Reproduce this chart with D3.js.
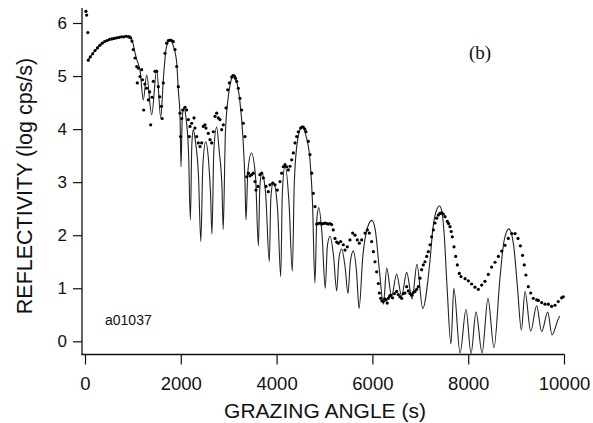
<!DOCTYPE html>
<html>
<head>
<meta charset="utf-8">
<script src="https://cdn.jsdelivr.net/npm/d3@7"></script>
<style>
  html, body { margin: 0; padding: 0; background: #fff; }
  svg { display: block; }
</style>
</head>
<body>
<svg id="chart" width="593" height="423"></svg>
<script>
// ---- tick labels ----
const xTicks = [0, 2000, 4000, 6000, 8000, 10000];
const yTicks = [0, 1, 2, 3, 4, 5, 6];

// ---- simulated reflectivity (thin line): grazing angle (s), log cps/s ----
const simAngle = [60, 200, 313, 500, 670, 940, 1000, 1050, 1085, 1150, 1217, 1288, 1392, 1497, 1580, 1640, 1700, 1775, 1850, 1914, 1948, 1985, 2004, 2030, 2067, 2110, 2160, 2200, 2230, 2261, 2300, 2370, 2418, 2460, 2519, 2580, 2620, 2650, 2690, 2749, 2800, 2860, 2885, 2930, 2990, 3050, 3105, 3160, 3230, 3300, 3340, 3361, 3400, 3475, 3560, 3620, 3650, 3690, 3770, 3848, 3880, 3931, 4020, 4086, 4120, 4175, 4260, 4328, 4370, 4440, 4530, 4620, 4697, 4750, 4800, 4840, 4880, 4950, 5015, 5060, 5115, 5190, 5255, 5300, 5357, 5430, 5490, 5540, 5601, 5670, 5722, 5800, 5900, 5990, 6060, 6150, 6228, 6300, 6400, 6505, 6610, 6715, 6830, 6930, 7050, 7200, 7260, 7330, 7400, 7450, 7500, 7560, 7640, 7700, 7830, 7954, 8060, 8163, 8290, 8413, 8538, 8664, 8750, 8850, 8950, 9030, 9110, 9186, 9305, 9429, 9534, 9660, 9750, 9916, 9990];
const simLogR  = [5.30, 5.47, 5.59, 5.68, 5.72, 5.76, 5.62, 5.42, 5.30, 5.10, 4.55, 5.02, 4.27, 5.12, 4.22, 5.00, 5.55, 5.67, 5.55, 5.25, 4.74, 4.20, 3.29, 4.20, 4.41, 4.20, 3.60, 2.29, 3.70, 3.99, 3.80, 3.10, 1.88, 3.30, 3.76, 3.40, 2.80, 2.02, 3.60, 4.04, 3.60, 2.90, 2.11, 3.90, 4.60, 4.92, 5.02, 4.92, 4.55, 3.80, 3.00, 2.29, 3.20, 3.55, 3.10, 1.80, 2.90, 3.17, 2.80, 1.50, 2.70, 3.00, 2.50, 1.22, 2.80, 3.31, 2.60, 1.32, 3.00, 3.80, 4.05, 3.85, 3.42, 2.60, 1.10, 2.30, 2.52, 2.00, 1.00, 1.80, 1.98, 1.60, 0.95, 1.55, 1.74, 1.40, 0.90, 1.50, 1.70, 1.30, 0.62, 1.60, 2.15, 2.28, 2.10, 1.30, 0.70, 1.38, 0.84, 1.27, 0.85, 1.30, 0.80, 1.45, 0.62, 1.50, 2.10, 2.45, 2.55, 2.45, 2.00, 1.00, -0.05, 1.00, -0.22, 0.60, -0.23, 0.55, -0.22, 0.81, -0.12, 1.20, 1.90, 2.12, 1.80, 1.00, 0.21, 0.94, 0.19, 0.67, 0.18, 0.55, 0.12, 0.47];

// ---- measured reflectivity (dots) ----
const dataAngle = [20, 35, 60, 70, 110, 160, 210, 260, 310, 360, 410, 460, 510, 560, 610, 660, 710, 760, 810, 860, 910, 950, 980, 1008, 1044, 1079, 1092, 1110, 1148, 1183, 1200, 1225, 1250, 1286, 1322, 1350, 1371, 1400, 1426, 1461, 1497, 1530, 1560, 1595, 1610, 1635, 1670, 1705, 1740, 1775, 1810, 1844, 1879, 1914, 1948, 1983, 1997, 2020, 2039, 2088, 2123, 2157, 2178, 2192, 2227, 2276, 2296, 2332, 2366, 2401, 2436, 2470, 2505, 2526, 2574, 2610, 2644, 2679, 2714, 2749, 2783, 2818, 2853, 2888, 2944, 2979, 3013, 3062, 3090, 3117, 3140, 3166, 3201, 3236, 3271, 3305, 3340, 3376, 3410, 3445, 3480, 3514, 3549, 3570, 3610, 3653, 3688, 3723, 3779, 3827, 3862, 3918, 3967, 4015, 4071, 4106, 4140, 4175, 4210, 4245, 4280, 4315, 4349, 4384, 4419, 4453, 4503, 4530, 4557, 4590, 4614, 4662, 4697, 4732, 4766, 4802, 4836, 4870, 4906, 4940, 4975, 5010, 5045, 5080, 5115, 5150, 5184, 5219, 5254, 5289, 5337, 5393, 5428, 5476, 5532, 5588, 5637, 5685, 5727, 5776, 5846, 5894, 5936, 5985, 6020, 6054, 6089, 6124, 6145, 6173, 6200, 6228, 6256, 6284, 6310, 6333, 6360, 6382, 6420, 6460, 6506, 6540, 6576, 6611, 6646, 6680, 6715, 6750, 6785, 6820, 6855, 6889, 6925, 6959, 6994, 7028, 7063, 7098, 7133, 7167, 7203, 7237, 7272, 7307, 7342, 7376, 7410, 7446, 7480, 7516, 7564, 7590, 7620, 7645, 7668, 7704, 7739, 7773, 7815, 7850, 7935, 8003, 8072, 8142, 8212, 8281, 8350, 8420, 8490, 8560, 8630, 8700, 8768, 8838, 8908, 8977, 9040, 9090, 9135, 9170, 9205, 9255, 9305, 9359, 9429, 9465, 9533, 9603, 9673, 9742, 9812, 9880, 9950, 9985];
const dataLogR  = [6.22, 6.15, 5.82, 5.30, 5.36, 5.42, 5.48, 5.53, 5.58, 5.62, 5.65, 5.67, 5.69, 5.70, 5.71, 5.72, 5.73, 5.74, 5.74, 5.75, 5.74, 5.72, 5.66, 5.50, 5.34, 5.18, 4.87, 5.15, 4.99, 5.12, 4.93, 4.36, 4.85, 4.77, 4.55, 4.70, 4.08, 4.60, 4.90, 5.09, 5.09, 4.80, 4.61, 4.43, 4.20, 4.87, 5.43, 5.62, 5.67, 5.68, 5.67, 5.65, 5.50, 5.18, 4.80, 4.30, 3.86, 4.20, 4.36, 4.41, 4.36, 4.18, 3.86, 4.05, 4.11, 4.21, 4.02, 3.86, 3.74, 3.67, 3.74, 4.05, 4.08, 4.02, 3.92, 3.80, 3.74, 3.95, 4.24, 4.30, 4.21, 4.18, 3.99, 4.08, 4.40, 4.74, 4.87, 4.98, 5.01, 5.00, 4.96, 4.90, 4.77, 4.58, 4.36, 4.11, 3.86, 3.10, 3.17, 3.12, 3.14, 3.17, 3.01, 2.85, 2.92, 3.14, 3.17, 3.08, 2.92, 2.82, 2.95, 2.98, 2.95, 2.85, 3.01, 3.17, 3.29, 3.33, 3.29, 3.23, 3.30, 3.42, 3.55, 3.74, 3.86, 3.95, 4.02, 4.04, 4.04, 4.00, 3.95, 3.77, 3.52, 3.17, 2.79, 2.54, 2.21, 2.22, 2.23, 2.21, 2.22, 2.23, 2.22, 2.21, 2.22, 2.20, 2.10, 1.94, 1.87, 1.85, 1.88, 1.82, 1.72, 1.78, 1.91, 2.04, 2.00, 1.91, 1.85, 1.91, 2.04, 2.10, 2.04, 1.88, 1.69, 1.50, 1.31, 1.09, 0.91, 0.81, 0.76, 0.75, 0.80, 0.78, 0.72, 0.81, 0.85, 0.87, 0.82, 0.90, 0.94, 0.88, 0.84, 0.81, 0.90, 0.91, 1.03, 0.95, 0.90, 0.87, 0.92, 0.94, 0.98, 1.03, 1.19, 1.35, 1.44, 1.50, 1.60, 1.69, 1.82, 1.97, 2.10, 2.23, 2.32, 2.38, 2.41, 2.42, 2.40, 2.35, 2.26, 2.22, 2.16, 2.07, 1.97, 1.78, 1.60, 1.44, 1.28, 1.22, 1.18, 1.14, 1.08, 1.02, 0.98, 1.06, 1.13, 1.26, 1.40, 1.49, 1.60, 1.70, 1.81, 1.94, 2.03, 2.03, 1.94, 1.80, 1.62, 1.44, 1.25, 1.03, 0.91, 0.81, 0.78, 0.77, 0.73, 0.70, 0.70, 0.66, 0.68, 0.75, 0.82, 0.84];

const panelLabel = "(b)";
const sampleLabel = "a01037";
const xTitle = "GRAZING ANGLE (s)";
const yTitle = "REFLECTIVITY (log cps/s)";

// ---- drawing ----
const sans = "Arial, 'Liberation Sans', Helvetica, sans-serif";
const svg = d3.select("#chart");
const x = d3.scaleLinear().domain([0, 10000]).range([85, 564]);
const y = d3.scaleLinear().domain([0, 6]).range([341.3, 23]);
const axisColor = "#111";

// y axis
const yAxis = d3.axisLeft(y).tickValues(yTicks).tickFormat(d3.format("d")).tickSize(9).tickPadding(6);
const gy = svg.append("g").attr("transform", "translate(82,0)").call(yAxis);
gy.select(".domain").remove();
gy.selectAll(".tick line").attr("stroke", axisColor).attr("stroke-width", 1.2);
gy.selectAll(".tick text").style("font-size", "17px").style("fill", "#111").style("font-family", sans);
svg.append("line").attr("x1", 82).attr("x2", 82).attr("y1", 8).attr("y2", 354.5)
  .attr("stroke", axisColor).attr("stroke-width", 1.3);

// x axis
const xAxis = d3.axisBottom(x).tickValues(xTicks).tickFormat(d3.format("d")).tickSize(10).tickPadding(12);
const gx = svg.append("g").attr("transform", "translate(0,354.5)").call(xAxis);
gx.select(".domain").remove();
gx.selectAll(".tick line").attr("stroke", axisColor).attr("stroke-width", 1.2);
gx.selectAll(".tick text").style("font-size", "18.5px").style("fill", "#111").style("font-family", sans);
svg.append("line").attr("x1", 81.4).attr("x2", 564.5).attr("y1", 354.5).attr("y2", 354.5)
  .attr("stroke", axisColor).attr("stroke-width", 1.3);

// simulated line
const sim = simAngle.map((a, i) => [a, simLogR[i]]);
const line = d3.line().x(d => x(d[0])).y(d => y(d[1])).curve(d3.curveMonotoneX);
svg.append("path").datum(sim).attr("d", line)
  .attr("fill", "none").attr("stroke", "#222").attr("stroke-width", 1.1);

// measured dots
const dat = dataAngle.map((a, i) => [a, dataLogR[i]]);
svg.append("g").selectAll("circle").data(dat).join("circle")
  .attr("cx", d => x(d[0])).attr("cy", d => y(d[1])).attr("r", 1.6).attr("fill", "#000");

// titles
svg.append("text").attr("x", 325).attr("y", 418).attr("text-anchor", "middle")
  .style("font-family", sans).style("font-size", "21px").style("fill", "#111").text(xTitle);
svg.append("text").attr("transform", "translate(32,186) rotate(-90)").attr("text-anchor", "middle")
  .style("font-family", sans).style("font-size", "21.5px").style("fill", "#111").text(yTitle);

// annotations
svg.append("text").attr("x", 480).attr("y", 59).attr("text-anchor", "middle")
  .style("font-family", "'Liberation Serif', 'Times New Roman', serif").style("font-size", "19px")
  .style("fill", "#111").text(panelLabel);
svg.append("text").attr("x", 105).attr("y", 325)
  .style("font-family", sans).style("font-size", "14px").style("fill", "#111").text(sampleLabel);
</script>
</body>
</html>
